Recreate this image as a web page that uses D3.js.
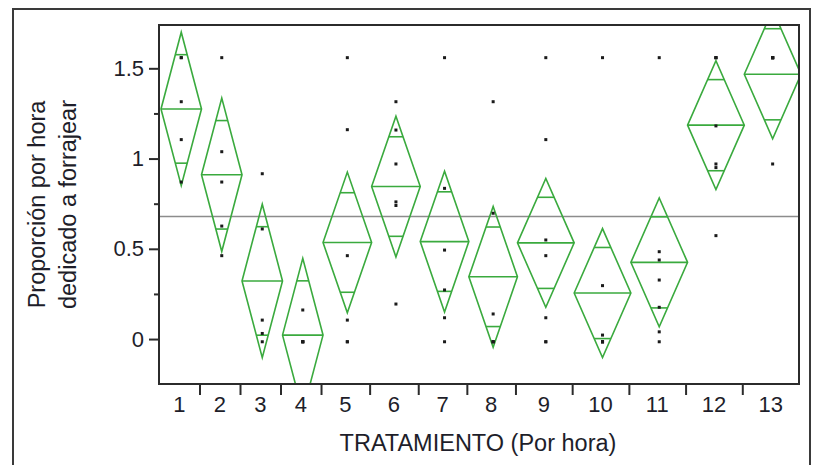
<!DOCTYPE html>
<html>
<head>
<meta charset="utf-8">
<script src="https://cdn.jsdelivr.net/npm/d3@7"></script>
<style>
  body { margin: 0; background: #fff; }
  svg { display: block; }
  text { font-family: "Liberation Sans", Arial, sans-serif; fill: #1e1e2a; }
</style>
</head>
<body>
<svg id="chart" width="815" height="465"></svg>
<script>
// Treatments (hours) and number of observations in each one
const treatments = ["1","2","3","4","5","6","7","8","9","10","11","12","13"];
const groupN     = [5, 5, 5, 5, 6, 6, 6, 6, 7, 7, 7, 7, 7];

// Group means and half-width of the 95% confidence interval
const groupMeans = [1.275, 0.91, 0.322, 0.022, 0.535, 0.845, 0.54, 0.345, 0.533, 0.255, 0.425, 1.185, 1.467];
const ciHalf     = [0.425, 0.425, 0.425, 0.425, 0.39, 0.39, 0.39, 0.39, 0.357, 0.357, 0.357, 0.357, 0.357];
const grandMean  = 0.679;

// Individual observations per treatment
const obs1  = [1.559, 1.559, 1.315, 1.105, 0.870];
const obs2  = [1.559, 1.038, 0.870, 0.626, 0.462];
const obs3  = [0.916, 0.610, 0.105, 0.031, -0.015];
const obs4  = [0.161, -0.015, -0.015, -0.015, -0.015];
const obs5  = [1.559, 1.160, 0.462, 0.105, -0.015, -0.015];
const obs6  = [1.315, 1.158, 0.970, 0.760, 0.740, 0.194];
const obs7  = [1.559, 0.835, 0.493, 0.272, 0.118, -0.015];
const obs8  = [1.315, 0.697, 0.139, -0.015, -0.015, -0.015];
const obs9  = [1.559, 1.105, 0.549, 0.462, 0.118, -0.015, -0.015];
const obs10 = [1.559, 0.296, 0.022, -0.015, -0.015, -0.015, -0.015];
const obs11 = [1.559, 0.484, 0.438, 0.327, 0.176, 0.040, -0.015];
const obs12 = [1.559, 1.559, 1.559, 1.181, 0.970, 0.950, 0.573];
const obs13 = [1.559, 1.559, 1.559, 1.559, 1.559, 1.559, 0.970];
const observations = [obs1, obs2, obs3, obs4, obs5, obs6, obs7, obs8, obs9, obs10, obs11, obs12, obs13];

// Axis ticks
const yMajorTicks = [0, 0.5, 1, 1.5];
const yMinorTicks = [0.25, 0.75, 1.25];
const yTickLabels = ["0", "0.5", "1", "1.5"];

const xTitle = "TRATAMIENTO (Por hora)";
const yTitle = ["Proporción por hora", "dedicado a forrajear"];

// ---- layout ----
const plot = { left: 159, top: 25, right: 799, bottom: 384 };
const diamondShift = 2;
const green = "#3aaa3e";

const svg = d3.select("#chart");

// outer frame of the report
svg.append("rect")
  .attr("x", 13).attr("y", 9).attr("width", 797).attr("height", 480)
  .attr("fill", "none").attr("stroke", "#3a3a3a").attr("stroke-width", 2);

// cumulative group boundaries -> widths proportional to group size
const cum = [0];
groupN.forEach(n => cum.push(cum[cum.length - 1] + n));
const totalN = cum[cum.length - 1];

const x = d3.scaleLinear().domain([0, totalN]).range([plot.left, plot.right]);
const y = d3.scaleLinear().domain([-0.249, 1.740]).range([plot.bottom, plot.top]);

svg.append("clipPath").attr("id", "plotClip")
  .append("rect")
  .attr("x", plot.left).attr("y", plot.top)
  .attr("width", plot.right - plot.left).attr("height", plot.bottom - plot.top);

// grand mean reference line
svg.append("line")
  .attr("x1", plot.left).attr("x2", plot.right)
  .attr("y1", y(grandMean)).attr("y2", y(grandMean))
  .attr("stroke", "#8c8c8c").attr("stroke-width", 1.6);

// means diamonds
const groups = treatments.map((t, i) => ({
  t, i,
  x0: x(cum[i]) + diamondShift,
  x1: x(cum[i + 1]) + diamondShift,
  mean: groupMeans[i],
  half: ciHalf[i],
  values: observations[i]
}));

const dg = svg.append("g").attr("clip-path", "url(#plotClip)");

groups.forEach(g => {
  const xc = (g.x0 + g.x1) / 2;
  const w = g.x1 - g.x0;
  const pts = [
    [g.x0, y(g.mean)], [xc, y(g.mean + g.half)],
    [g.x1, y(g.mean)], [xc, y(g.mean - g.half)]
  ];
  dg.append("polygon")
    .attr("points", pts.map(p => p.join(",")).join(" "))
    .attr("fill", "none").attr("stroke", green).attr("stroke-width", 1.6);
  // mean line
  dg.append("line")
    .attr("x1", g.x0).attr("x2", g.x1)
    .attr("y1", y(g.mean)).attr("y2", y(g.mean))
    .attr("stroke", green).attr("stroke-width", 1.6);
  // overlap marks
  const off = g.half / Math.SQRT2;
  const hw = (w / 2) * (1 - 1 / Math.SQRT2);
  [g.mean + off, g.mean - off].forEach(v => {
    dg.append("line")
      .attr("x1", xc - hw).attr("x2", xc + hw)
      .attr("y1", y(v)).attr("y2", y(v))
      .attr("stroke", green).attr("stroke-width", 1.6);
  });
});

// observations
const pg = svg.append("g");
groups.forEach(g => {
  const xc = (g.x0 + g.x1) / 2;
  pg.selectAll(null).data(g.values).enter().append("rect")
    .attr("x", xc - 1.5).attr("y", d => y(d) - 1.5)
    .attr("width", 3).attr("height", 3)
    .attr("fill", "#1a1a1a");
});

// plot frame
svg.append("rect")
  .attr("x", plot.left).attr("y", plot.top)
  .attr("width", plot.right - plot.left).attr("height", plot.bottom - plot.top)
  .attr("fill", "none").attr("stroke", "#2b2b2b").attr("stroke-width", 2);

// y axis
const yAxis = svg.append("g")
  .attr("transform", `translate(${plot.left},0)`)
  .call(d3.axisLeft(y).tickValues(yMajorTicks).tickSize(10).tickPadding(5)
    .tickFormat((d, i) => yTickLabels[i]));
const yMinor = svg.append("g")
  .attr("transform", `translate(${plot.left},0)`)
  .call(d3.axisLeft(y).tickValues(yMinorTicks).tickSize(5).tickFormat(""));
[yAxis, yMinor].forEach(a => {
  a.select(".domain").remove();
  a.selectAll("line").attr("stroke", "#2b2b2b").attr("stroke-width", 2);
});
yAxis.selectAll("text").attr("font-size", 22).style("font-family", '"Liberation Sans", Arial, sans-serif').attr("fill", "#1e1e2a");

// x axis: ticks at the group boundaries, labels at group centres
const xTickPos = cum.slice(1, -1);
const xAxis = svg.append("g")
  .attr("transform", `translate(0,${plot.bottom})`)
  .call(d3.axisBottom(x).tickValues(xTickPos).tickSize(11).tickFormat(""));
xAxis.select(".domain").remove();
xAxis.selectAll("line").attr("stroke", "#2b2b2b").attr("stroke-width", 2);

svg.append("g").selectAll("text").data(groups).enter().append("text")
  .attr("x", d => x((cum[d.i] + cum[d.i + 1]) / 2))
  .attr("y", 412)
  .attr("text-anchor", "middle")
  .attr("font-size", 22)
  .text(d => d.t);

// axis titles
svg.append("text")
  .attr("x", (plot.left + plot.right) / 2 - 1)
  .attr("y", 451)
  .attr("text-anchor", "middle")
  .attr("font-size", 23.5)
  .text(xTitle);

const yMid = (plot.top + plot.bottom) / 2;
yTitle.forEach((line, i) => {
  svg.append("text")
    .attr("transform", `translate(${45 + i * 31},${yMid}) rotate(-90)`)
    .attr("text-anchor", "middle")
    .attr("font-size", 23.5)
    .text(line);
});
</script>
</body>
</html>
